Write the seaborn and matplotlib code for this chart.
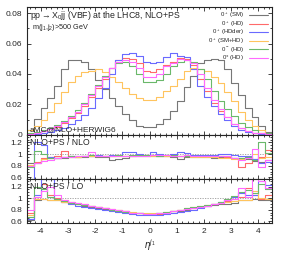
import numpy as np
import pandas as pd
import matplotlib
matplotlib.use('Agg')
import matplotlib.pyplot as plt
import seaborn as sns
from matplotlib.ticker import MultipleLocator, FuncFormatter

# binning of eta(j1)
edges = np.linspace(-4.5, 4.5, 37)
centers = edges[:-1] + 0.125

labels = ['0$^+$ (SM)', '0$^+$ (HD)', '0$^+$ (HDder)', '0$^+$ (SM+HD)', '0$^-$ (HD)', '0$^{\\pm}$ (HD)']
colors = ['#777777', '#ff6a6a', '#6a6aff', '#ffc45e', '#6ab86a', '#ff6aff']

# normalised distributions, NLO+PS
sm = [0.003, 0.0105, 0.018, 0.0245, 0.032, 0.043, 0.049, 0.0495, 0.048, 0.043, 0.036, 0.030,
      0.024, 0.019, 0.014, 0.0095, 0.006, 0.005, 0.005, 0.007, 0.0105, 0.016, 0.0225, 0.0315,
      0.039, 0.047, 0.0495, 0.050, 0.049, 0.043, 0.034, 0.026, 0.018, 0.0115, 0.006, 0.002]
hd = [0.0008, 0.0015, 0.0025, 0.004, 0.0055, 0.008, 0.011, 0.0145, 0.019, 0.025, 0.031, 0.037,
      0.044, 0.049, 0.0505, 0.050, 0.047, 0.042, 0.041, 0.043, 0.046, 0.048, 0.0505, 0.050,
      0.046, 0.037, 0.029, 0.021, 0.016, 0.0115, 0.007, 0.0045, 0.0025, 0.0015, 0.001, 0.0005]
hdder = [0.0003, 0.0007, 0.0012, 0.002, 0.003, 0.0045, 0.007, 0.0095, 0.013, 0.018, 0.024, 0.031,
         0.040, 0.049, 0.053, 0.054, 0.052, 0.048, 0.047, 0.048, 0.051, 0.054, 0.052, 0.051,
         0.043, 0.032, 0.025, 0.019, 0.014, 0.0095, 0.006, 0.0035, 0.002, 0.001, 0.0006, 0.0003]
smhd = [0.003, 0.006, 0.0095, 0.015, 0.021, 0.028, 0.035, 0.039, 0.041, 0.042, 0.043, 0.041,
        0.038, 0.035, 0.031, 0.027, 0.024, 0.023, 0.023, 0.025, 0.029, 0.032, 0.037, 0.042,
        0.044, 0.043, 0.042, 0.038, 0.034, 0.028, 0.022, 0.015, 0.010, 0.006, 0.003, 0.001]
odd = [0.001, 0.002, 0.003, 0.0045, 0.0065, 0.009, 0.0125, 0.0165, 0.021, 0.027, 0.033, 0.039,
       0.044, 0.047, 0.048, 0.045, 0.040, 0.035, 0.035, 0.036, 0.040, 0.045, 0.048, 0.049,
       0.048, 0.043, 0.037, 0.029, 0.022, 0.017, 0.0125, 0.008, 0.005, 0.003, 0.0015, 0.001]
mix = [0.0008, 0.0015, 0.0025, 0.004, 0.006, 0.0085, 0.0115, 0.015, 0.020, 0.026, 0.032, 0.038,
       0.044, 0.048, 0.049, 0.048, 0.044, 0.038, 0.038, 0.040, 0.045, 0.047, 0.050, 0.049,
       0.047, 0.040, 0.031, 0.023, 0.017, 0.012, 0.0075, 0.0045, 0.0025, 0.0015, 0.001, 0.0005]

# ratio NLO+PS / NLO
r_nlo_sm = [0.85, 0.84, 0.92, 0.93, 0.93, 0.94, 0.95, 0.95, 0.95, 0.96, 0.95, 0.95, 0.89, 0.92, 0.93, 0.96, 0.97, 0.97,
            0.97, 0.96, 0.96, 0.95, 0.92, 0.95, 0.95, 0.95, 0.95, 0.94, 0.95, 0.95, 0.94, 0.93, 0.92, 0.88, 0.86, 0.90]
r_nlo_hd = [0.80, 0.87, 0.93, 0.95, 0.96, 1.05, 0.96, 0.95, 0.96, 0.96, 0.97, 0.97, 0.96, 0.96, 0.97, 0.97, 0.98, 0.98,
            0.98, 0.97, 0.97, 0.98, 0.97, 0.97, 0.96, 0.96, 0.97, 0.96, 0.96, 0.95, 0.93, 0.78, 0.85, 0.92, 0.95, 1.07]
r_nlo_hdder = [0.55, 1.20, 1.15, 0.95, 0.93, 0.95, 0.96, 0.95, 0.97, 0.97, 0.98, 0.97, 0.98, 0.99, 1.04, 1.04, 1.00, 0.99,
               1.03, 1.00, 0.99, 1.00, 1.03, 1.02, 0.99, 0.98, 0.99, 0.98, 1.01, 1.00, 0.98, 0.97, 0.96, 0.92, 0.84, 0.86]
r_nlo_smhd = [0.82, 0.85, 0.92, 0.93, 0.94, 0.95, 0.95, 0.95, 0.96, 0.96, 0.96, 0.97, 0.97, 0.97, 0.96, 0.97, 0.97, 0.97,
              0.96, 0.96, 0.96, 0.96, 0.96, 0.96, 0.95, 0.95, 0.95, 0.95, 0.94, 0.93, 0.91, 0.92, 0.95, 1.00, 0.93, 0.95]
r_nlo_odd = [0.78, 1.06, 1.00, 0.93, 0.94, 0.95, 0.96, 0.97, 0.97, 0.98, 0.97, 0.97, 0.97, 0.98, 0.97, 0.98, 0.98, 0.98,
             0.98, 0.97, 0.98, 0.98, 0.97, 0.97, 0.97, 0.96, 0.96, 0.97, 0.97, 0.96, 0.94, 0.93, 0.95, 0.90, 1.21, 1.02]
r_nlo_mix = [0.80, 0.84, 0.88, 0.90, 0.93, 0.95, 0.95, 0.96, 0.96, 1.04, 0.96, 0.96, 0.97, 0.97, 0.96, 0.97, 0.97, 0.97,
             0.98, 0.99, 0.98, 0.97, 0.97, 0.98, 0.97, 0.96, 0.97, 0.96, 0.97, 0.96, 0.94, 0.90, 0.93, 1.09, 0.77, 0.90]

# ratio NLO+PS / LO
r_lo_sm = [0.62, 0.97, 0.98, 0.97, 0.97, 0.93, 0.91, 0.89, 0.87, 0.85, 0.83, 0.81, 0.80, 0.78, 0.77, 0.75, 0.74, 0.73,
           0.73, 0.74, 0.75, 0.77, 0.78, 0.80, 0.82, 0.84, 0.86, 0.88, 0.90, 0.90, 0.92, 0.96, 0.97, 0.98, 0.97, 0.96]
r_lo_hd = [0.75, 1.02, 1.25, 1.05, 1.00, 0.96, 0.93, 0.91, 0.89, 0.87, 0.85, 0.83, 0.81, 0.79, 0.77, 0.75, 0.74, 0.73,
           0.72, 0.73, 0.75, 0.77, 0.79, 0.81, 0.83, 0.85, 0.87, 0.89, 0.92, 0.95, 0.98, 1.02, 1.17, 1.06, 0.98, 1.05]
r_lo_hdder = [0.63, 1.05, 1.33, 1.33, 0.98, 0.93, 0.90, 0.87, 0.85, 0.83, 0.81, 0.79, 0.78, 0.76, 0.74, 0.72, 0.71, 0.70,
              0.70, 0.71, 0.72, 0.74, 0.76, 0.78, 0.80, 0.83, 0.86, 0.89, 0.93, 0.97, 1.02, 1.08, 1.06, 1.05, 1.29, 1.22]
r_lo_smhd = [0.70, 0.98, 0.98, 0.97, 0.96, 0.94, 0.92, 0.90, 0.88, 0.86, 0.84, 0.82, 0.80, 0.79, 0.77, 0.76, 0.75, 0.74,
             0.74, 0.75, 0.76, 0.78, 0.80, 0.82, 0.84, 0.86, 0.88, 0.90, 0.91, 0.93, 0.95, 0.96, 0.97, 1.12, 1.00, 0.98]
r_lo_odd = [0.68, 1.19, 1.15, 1.02, 0.99, 0.95, 0.92, 0.90, 0.88, 0.86, 0.84, 0.82, 0.80, 0.78, 0.76, 0.75, 0.74, 0.73,
            0.73, 0.74, 0.76, 0.78, 0.80, 0.82, 0.84, 0.86, 0.88, 0.90, 0.94, 0.99, 1.03, 1.10, 1.14, 1.08, 1.25, 1.15]
r_lo_mix = [0.80, 1.02, 1.12, 1.20, 1.05, 0.97, 0.94, 0.91, 0.89, 0.87, 0.85, 0.83, 0.81, 0.79, 0.77, 0.75, 0.74, 0.73,
            0.73, 0.74, 0.75, 0.77, 0.79, 0.81, 0.83, 0.85, 0.87, 0.89, 0.92, 0.96, 0.99, 1.17, 1.02, 1.33, 1.29, 1.18]

main = [sm, hd, hdder, smhd, odd, mix]
rat_nlo = [r_nlo_sm, r_nlo_hd, r_nlo_hdder, r_nlo_smhd, r_nlo_odd, r_nlo_mix]
rat_lo = [r_lo_sm, r_lo_hd, r_lo_hdder, r_lo_smhd, r_lo_odd, r_lo_mix]

sns.set_style('ticks')
plt.rcParams['font.family'] = ['Liberation Sans', 'DejaVu Sans']
plt.rcParams['mathtext.fontset'] = 'custom'
plt.rcParams['mathtext.rm'] = 'Liberation Sans'
plt.rcParams['mathtext.it'] = 'Liberation Sans:italic'
plt.rcParams['axes.unicode_minus'] = False

fig = plt.figure(figsize=(2.87, 2.58), dpi=100)
L, W = 0.094, 0.854
ax0 = fig.add_axes([L, 0.477, W, 0.496])
ax1 = fig.add_axes([L, 0.306, W, 0.171])
ax2 = fig.add_axes([L, 0.136, W, 0.170])

bin_list = [float(e) for e in edges]


def step_hist(ax, vals, c, lab=None):
    d = pd.DataFrame({'eta': centers, 'w': vals})
    sns.histplot(data=d, x='eta', weights='w', bins=bin_list, element='step', fill=False,
                 color=c, linewidth=0.8, label=lab, ax=ax)


for vals, c, lab in zip(main, colors, labels):
    step_hist(ax0, vals, c, lab)
for vals, c in zip(rat_nlo, colors):
    step_hist(ax1, vals, c)
for vals, c in zip(rat_lo, colors):
    step_hist(ax2, vals, c)

for ax in (ax0, ax1, ax2):
    ax.set_xlim(-4.5, 4.5)
    ax.set_xlabel('')
    ax.set_ylabel('')
    ax.xaxis.set_major_locator(MultipleLocator(1))
    ax.xaxis.set_minor_locator(MultipleLocator(0.2))
    ax.tick_params(which='both', direction='in', top=True, right=True, labelsize=6, width=0.6)
    ax.tick_params(which='major', length=3)
    ax.tick_params(which='minor', length=1.5)
    for s in ax.spines.values():
        s.set_linewidth(0.8)

ax0.set_ylim(0, 0.084)
ax0.yaxis.set_major_locator(MultipleLocator(0.02))
ax0.yaxis.set_minor_locator(MultipleLocator(0.01))
ax0.yaxis.set_major_formatter(FuncFormatter(lambda v, p: '0' if abs(v) < 1e-9 else f'{v:.2f}'))
ax0.tick_params(labelbottom=False)

for ax in (ax1, ax2):
    ax.set_ylim(0.57, 1.33)
    ax.yaxis.set_major_locator(MultipleLocator(0.2))
    ax.yaxis.set_minor_locator(MultipleLocator(0.05))
    ax.yaxis.set_major_formatter(FuncFormatter(lambda v, p: f'{v:g}'))
    ax.axhline(1.0, color='#999999', linestyle=(0, (1.5, 1.5)), linewidth=0.6, zorder=0)
ax1.tick_params(labelbottom=False)

ax0.text(0.012, 0.985, 'pp$\\rightarrow$X$_0$jj (VBF) at the LHC8, NLO+PS', transform=ax0.transAxes,
         fontsize=6.3, va='top', ha='left')
ax0.text(0.02, 0.885, 'm(j$_1$,j$_2$)>500 GeV', transform=ax0.transAxes,
         fontsize=5.2, va='top', ha='left')
ax0.text(0.012, 0.012, 'aMC@NLO+HERWIG6', transform=ax0.transAxes,
         fontsize=6, va='bottom', ha='left')
ax1.text(0.012, 0.94, 'NLO+PS / NLO', transform=ax1.transAxes, fontsize=6.2, va='top', ha='left')
ax2.text(0.012, 0.94, 'NLO+PS / LO', transform=ax2.transAxes, fontsize=6.2, va='top', ha='left')

ax0.legend(loc='upper right', frameon=False, fontsize=4.3, markerfirst=False,
           handlelength=3.2, labelspacing=-0.12, borderaxespad=0.3, handletextpad=0.8)

ax2.set_xlabel('$\\eta^{j_1}$', fontsize=7, labelpad=2)

fig.savefig('out.png', dpi=100)
